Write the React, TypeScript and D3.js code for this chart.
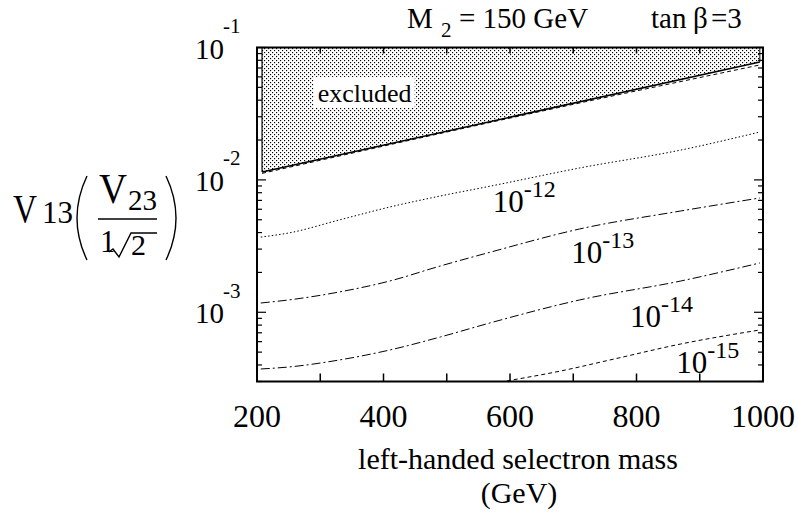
import React from "react";
import * as d3 from "d3";

// ---- data ----
const massA = [206, 250, 330, 410, 490, 570, 710, 870, 995];
const contour12 = [0.0037, 0.00397, 0.00498, 0.00624, 0.00756, 0.00899, 0.0123, 0.0168, 0.023];
const contour13 = [0.001175, 0.001239, 0.001423, 0.001723, 0.002238, 0.002854, 0.004258, 0.005823, 0.0073];
const contour14 = [0.000373, 0.000386, 0.000436, 0.000519, 0.000651, 0.000835, 0.001239, 0.001723, 0.002357];
const massD = [595, 680, 765, 870, 995];
const contour15 = [0.000303, 0.00036, 0.000444, 0.000576, 0.000735];
const massBound = [208, 995];
const excludedBound = [0.01147, 0.0777];
const massC11 = [208, 700, 995];
const contour11 = [0.0112, 0.0372, 0.0738];

const xTickValues = [200, 300, 400, 500, 600, 700, 800, 900, 1000];
const xTickLabels = [200, 400, 600, 800, 1000];
const yTickLabels = [0.1, 0.01, 0.001];
const yTickExp = ["-1", "-2", "-3"];

const contourLabelExp = ["-12", "-13", "-14", "-15"];
const contourLabelMass = [576, 700, 793, 866];
const contourLabelV = [0.00572, 0.00236, 0.000775, 0.000348];

const excludedMass = 296;
const excludedV = 0.0388;

const FONT = "'Liberation Serif', 'Times New Roman', serif";

export default function App() {
  const W = 798, H = 519;
  const left = 257, right = 763, top = 47.5, bottom = 381.5;
  const x = d3.scaleLinear().domain([200, 1000]).range([left, right]);
  const y = d3.scaleLog().domain([3e-4, 0.1]).range([bottom, top]);

  const line = d3
    .line<[number, number]>()
    .x((d) => x(d[0]))
    .y((d) => y(d[1]))
    .curve(d3.curveMonotoneX);

  const zip = (xs: number[], vs: number[]) => xs.map((m, i) => [m, vs[i]] as [number, number]);

  const area = d3
    .area<[number, number]>()
    .x((d) => x(d[0]))
    .y0(y(0.1))
    .y1((d) => y(d[1]));

  const boundPts = zip(massBound, excludedBound);

  // log ticks
  const yTicks: { v: number; major: boolean }[] = [];
  for (let e = -4; e <= -1; e++) {
    for (let m = 1; m <= 9; m++) {
      const v = m * Math.pow(10, e);
      if (v >= 3e-4 - 1e-12 && v <= 0.1 + 1e-12) yTicks.push({ v, major: m === 1 });
    }
  }

  return (
    <svg
      width={W}
      height={H}
      style={{ position: "absolute", left: 0, top: 0, background: "#fff" }}
      fontFamily={FONT}
    >
      <defs>
        <pattern id="stip" width="4" height="4" patternUnits="userSpaceOnUse">
          <rect width="4" height="4" fill="#fff" />
          <rect x="0" y="0" width="1.15" height="1.15" fill="#000" />
          <rect x="2" y="2" width="1.15" height="1.15" fill="#000" />
        </pattern>
        <clipPath id="plotclip">
          <rect x={left} y={top} width={right - left} height={bottom - top} />
        </clipPath>
      </defs>

      {/* excluded region */}
      <path d={area(boundPts) || ""} fill="url(#stip)" />
      <line x1={x(massBound[0])} x2={x(massBound[0])} y1={y(0.1)} y2={y(excludedBound[0])} stroke="#000" strokeWidth={1.2} />
      <line x1={x(massBound[1])} x2={x(massBound[1])} y1={y(0.1)} y2={y(excludedBound[1])} stroke="#000" strokeWidth={1} />

      <g clipPath="url(#plotclip)" fill="none" stroke="#000">
        <path d={line(zip(massC11, contour11)) || ""} strokeWidth={1} strokeDasharray="4 3" />
        <path d={line(boundPts) || ""} strokeWidth={1.6} />
        <path d={line(zip(massA, contour12)) || ""} strokeWidth={1} strokeDasharray="1.5 2.2" />
        <path d={line(zip(massA, contour13)) || ""} strokeWidth={1} strokeDasharray="9 3 2 3" />
        <path d={line(zip(massA, contour14)) || ""} strokeWidth={1} strokeDasharray="9 3 2 3" />
        <path d={line(zip(massD, contour15)) || ""} strokeWidth={1} strokeDasharray="4 3" />
      </g>

      {/* excluded label */}
      <rect x={x(excludedMass) - 4} y={y(excludedV) - 25} width={101} height={31} fill="#fff" />
      <text x={x(excludedMass)} y={y(excludedV)} fontSize={26}>excluded</text>

      {/* frame */}
      <rect x={left} y={top} width={right - left} height={bottom - top} fill="none" stroke="#000" strokeWidth={2} />
      {xTickValues.map((v) => (
        <g key={"xt" + v} stroke="#000" strokeWidth={1.5}>
          <line x1={x(v)} x2={x(v)} y1={bottom} y2={bottom - 8} />
          <line x1={x(v)} x2={x(v)} y1={top} y2={top + 6} />
        </g>
      ))}
      {yTicks.map((t, i) => {
        const len = t.major ? 9 : 5;
        return (
          <g key={"yt" + i} stroke="#000" strokeWidth={1.2}>
            <line x1={left} x2={left + len} y1={y(t.v)} y2={y(t.v)} />
            <line x1={right} x2={right - len} y1={y(t.v)} y2={y(t.v)} />
          </g>
        );
      })}

      {/* x tick labels */}
      {xTickLabels.map((v) => (
        <text key={"xl" + v} x={x(v)} y={427} fontSize={32} textAnchor="middle">
          {v}
        </text>
      ))}

      {/* y tick labels */}
      {yTickLabels.map((v, i) => (
        <g key={"yl" + i}>
          <text x={195} y={y(v) + 11} fontSize={29}>10</text>
          <text x={223} y={y(v) - 14.5} fontSize={21}>{yTickExp[i]}</text>
        </g>
      ))}

      {/* contour labels */}
      {contourLabelExp.map((e, i) => {
        const px = x(contourLabelMass[i]);
        const py = y(contourLabelV[i]);
        return (
          <g key={"cl" + i}>
            <text x={px - 2} y={py} fontSize={31}>10</text>
            <text x={px + 29} y={py - 15} fontSize={24}>{e}</text>
          </g>
        );
      })}

      {/* title */}
      <text x={407} y={28} fontSize={29}>M</text>
      <text x={441} y={37} fontSize={21}>2</text>
      <text x={459} y={28} fontSize={29}>= 150 GeV</text>
      <text x={651} y={28} fontSize={29}>tan</text>
      <text x={693} y={28} fontSize={29}>β</text>
      <text x={711} y={28} fontSize={29}>=3</text>

      {/* x axis title */}
      <text x={518} y={469} fontSize={30} textAnchor="middle">left-handed selectron mass</text>
      <text x={519} y={503} fontSize={30} textAnchor="middle">(GeV)</text>

      {/* y axis title */}
      <text x={13} y={222} fontSize={40} textLength={24} lengthAdjust="spacingAndGlyphs">V</text>
      <text x={42} y={223} fontSize={31}>13</text>
      <path d="M87,176 Q67,218 87,260" fill="none" stroke="#000" strokeWidth={1.4} />
      <text x={99} y={203} fontSize={42} textLength={28} lengthAdjust="spacingAndGlyphs">V</text>
      <text x={128} y={210} fontSize={29}>23</text>
      <line x1={98} x2={157} y1={219} y2={219} stroke="#000" strokeWidth={1.4} />
      <text x={100} y={252} fontSize={31}>1</text>
      <path d="M109,252 L113,249 L119,257 L131,233 L157,233" fill="none" stroke="#000" strokeWidth={1.4} />
      <text x={131} y={255} fontSize={30}>2</text>
      <path d="M166,176 Q186,218 166,260" fill="none" stroke="#000" strokeWidth={1.4} />
    </svg>
  );
}
